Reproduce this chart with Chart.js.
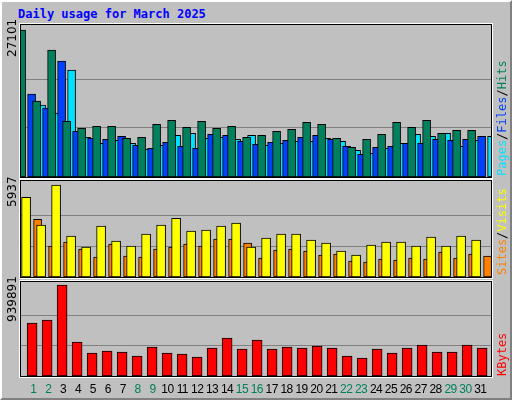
<!DOCTYPE html>
<html><head><meta charset="utf-8">
<script src="https://cdn.jsdelivr.net/npm/chart.js@4"></script>
<style>
body{margin:0;background:#c0c0c0;width:512px;height:400px;overflow:hidden;position:relative;font-family:"DejaVu Sans Mono",monospace}
#frame{position:absolute;left:0;top:0;width:508px;height:396px;border-top:2px solid #fff;border-left:2px solid #fff;border-right:2px solid #808080;border-bottom:2px solid #808080}
.panel{position:absolute;left:20px;width:470px;border:1px solid #000;outline:1px solid #fff}
.panel canvas{display:block}
.rot{position:absolute;transform:rotate(-90deg);transform-origin:left top;white-space:nowrap;font-size:12px}
#title{position:absolute;left:18px;top:7px;color:#0000ff;font-weight:bold;font-size:12px}
.xl{position:absolute;top:382px;font-family:"Liberation Sans",sans-serif;font-size:12px;letter-spacing:-0.6px;transform:translateX(-50%)}
</style></head>
<body>
<div id="frame"></div>
<div id="title">Daily usage for March 2025</div>
<div class="panel" style="top:24px;height:152px"><canvas id="c1" width="470" height="152"></canvas></div>
<div class="panel" style="top:180px;height:96px"><canvas id="c2" width="470" height="96"></canvas></div>
<div class="panel" style="top:281px;height:94px"><canvas id="c3" width="470" height="94"></canvas></div>
<div class="rot" style="left:5px;top:57px;font-family:'DejaVu Sans',sans-serif">27101</div>
<div class="rot" style="left:5px;top:207px;font-family:'DejaVu Sans',sans-serif">5937</div>
<div class="rot" style="left:5px;top:322px;font-family:'DejaVu Sans',sans-serif">939891</div>
<div class="rot" style="left:495px;top:176px"><span style="color:#00e0ff">Pages</span>/<span style="color:#0040ff">Files</span>/<span style="color:#00805c">Hits</span></div>
<div class="rot" style="left:495px;top:275px"><span style="color:#ff8000">Sites</span>/<span style="color:#ffff00">Visits</span></div>
<div class="rot" style="left:495px;top:376px"><span style="color:#ff0000">KBytes</span></div>
<div id="xlabels"></div>
<script>
const days = Array.from({length: 31}, (_, i) => i + 1);
const weekend = [1, 2, 8, 9, 15, 16, 22, 23, 29, 30];
const hits = [27101,13981,23404,10286,8992,9362,9362,7145,7329,9731,10470,9177,10286,8992,9362,7329,7699,8438,8807,10101,9731,7145,5482,6960,7884,10101,9177,10470,8068,8623,8623];
const files = [15274,12688,21372,8438,7145,6960,7514,5851,5297,6405,5666,5297,7884,7699,6590,6036,6405,6775,7329,7699,6960,5666,4188,5482,5666,6221,6221,6960,6775,6960,7514];
const pages = [13242,11764,19709,7329,6221,6775,6221,5112,5851,7699,8068,7145,7329,6960,7699,5851,6221,6590,6590,7145,6590,4927,4373,5297,6221,7884,7514,8068,5666,6775,7514];
const visits = [5144,3343,5937,2636,1929,3279,2315,1993,2765,3343,3793,2957,3022,3279,3472,1929,2507,2765,2765,2379,2186,1672,1414,2057,2250,2250,1993,2572,1993,2636,2379];
const sites = [3729,1993,2250,1800,1286,2122,1350,1286,1800,1929,2122,1993,2443,2443,2186,1222,1736,1800,1672,1414,1479,1029,964,1157,1093,1222,1157,1607,1222,1479,1350];
const kbytes = [547400,578400,939891,351200,237600,258200,247900,206600,299500,237600,227200,196300,289200,392500,278900,371800,278900,299500,289200,309900,289200,206600,185900,278900,237600,289200,320200,247900,247900,320200,289200];

const slot = 450 / 30;
function panel(id, maxVal, maxPx, height, series) {
    const yMax = maxVal * height / maxPx;
    const scales = {
        y: { min: 0, max: yMax, display: true, border: { display: false }, ticks: { display: false },
             afterFit: ax => { ax.width = 0; },
             afterBuildTicks: ax => { ax.ticks = [{ value: maxVal / 3 }, { value: maxVal * 2 / 3 }]; },
             grid: { color: '#808080', lineWidth: 1, drawTicks: false } }
    };
    const datasets = series.map((s, i) => {
        // day 1 centre sits at 8.6px + shift, 15px per day
        const lo = 1 - (8.6 + s.shift) / slot;
        scales['x' + i] = { type: 'linear', offset: false, min: lo, max: lo + 470 / slot, display: false };
        return { data: s.data.map((v, k) => ({ x: days[k], y: v })), xAxisID: 'x' + i,
                 backgroundColor: s.color, borderColor: '#000', borderWidth: 1, barThickness: s.w, borderSkipped: false };
    });
    new Chart(document.getElementById(id), {
        type: 'bar', data: { datasets },
        options: { responsive: false, animation: false, devicePixelRatio: 1,
                   layout: { padding: 0 }, plugins: { legend: { display: false }, tooltip: { enabled: false } }, scales }
    });
}
panel('c1', 27101, 147, 152, [
    { data: hits, color: '#00805c', w: 8, shift: 0 },
    { data: files, color: '#0040ff', w: 8, shift: 2 },
    { data: pages, color: '#00e0ff', w: 8, shift: 4 }
]);
panel('c2', 5937, 92, 96, [
    { data: visits, color: '#ffff00', w: 9, shift: 1 },
    { data: sites, color: '#ff8000', w: 8, shift: 4 }
]);
panel('c3', 939891, 91, 94, [
    { data: kbytes, color: '#ff0000', w: 10, shift: 2.5 }
]);

const xl = document.getElementById('xlabels');
days.forEach((d, i) => {
    const s = document.createElement('div');
    s.className = 'xl';
    s.textContent = d;
    s.style.left = (33.3 + i * 14.9) + 'px';
    s.style.color = weekend.includes(d) ? '#00805c' : '#000';
    xl.appendChild(s);
});
</script>
</body></html>
